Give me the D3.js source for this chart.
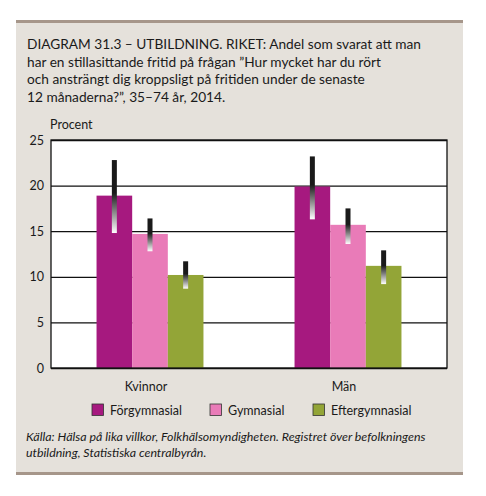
<!DOCTYPE html>
<html>
<head>
<meta charset="utf-8">
<script src="https://cdn.jsdelivr.net/npm/d3@7"></script>
<style>
  body { margin: 0; background: #fff; }
  svg text { font-family: Lato, "Open Sans", sans-serif; fill: #1a1a1a; }
</style>
</head>
<body>
<div id="chart"></div>
<script>
var groups = ["Kvinnor", "Män"];
var levels = ["Förgymnasial", "Gymnasial", "Eftergymnasial"];
var colors = ["#a6197f", "#e97bb8", "#93a537"];
// andel (procent) per grupp, ordning som levels
var values = {
  "Kvinnor": [18.9, 14.7, 10.2],
  "Män": [19.9, 15.7, 11.2]
};
// konfidensintervall, låg / hög
var ciLow = {
  "Kvinnor": [14.8, 12.8, 8.7],
  "Män": [16.3, 13.6, 9.2]
};
var ciHigh = {
  "Kvinnor": [22.8, 16.4, 11.7],
  "Män": [23.2, 17.5, 12.9]
};
var yTicks = [0, 5, 10, 15, 20, 25];

var titleLines = [
  "DIAGRAM 31.3 – UTBILDNING. RIKET: Andel som svarat att man",
  "har en stillasittande fritid på frågan ”Hur mycket har du rört",
  "och ansträngt dig kroppsligt på fritiden under de senaste",
  "12 månaderna?”, 35–74 år, 2014."
];
var sourceLines = [
  "Källa: Hälsa på lika villkor, Folkhälsomyndigheten. Registret över befolkningens",
  "utbildning, Statistiska centralbyrån."
];

var W = 486, H = 496;
var svg = d3.select("#chart").append("svg")
  .attr("width", W)
  .attr("height", H);

// panel background
svg.append("rect")
  .attr("x", 16).attr("y", 21)
  .attr("width", 447).attr("height", 453)
  .attr("fill", "#e5e1db");
svg.append("rect")
  .attr("x", 16).attr("y", 20)
  .attr("width", 447).attr("height", 3)
  .attr("fill", "#a6968a");
svg.append("rect")
  .attr("x", 16).attr("y", 472)
  .attr("width", 447).attr("height", 3)
  .attr("fill", "#a6968a");

svg.append("g").selectAll("text")
  .data(titleLines)
  .enter().append("text")
  .attr("x", 27)
  .attr("y", function(d, i) { return 49 + i * 17.6; })
  .style("font-size", "13.7px")
  .text(function(d) { return d; });

var margin = { top: 140, left: 51, right: 447, bottom: 368 };
var width = margin.right - margin.left,
  height = margin.bottom - margin.top;

var g = svg.append("g")
  .attr("transform", "translate(" + margin.left + "," + margin.top + ")");

var yScale = d3.scaleLinear()
  .domain([0, 25])
  .range([height, 0]);

var x0 = d3.scaleBand()
  .domain(groups)
  .range([0, width])
  .paddingInner(0.46)
  .paddingOuter(0.23);

var x1 = d3.scaleBand()
  .domain(levels)
  .range([0, x0.bandwidth()]);

g.append("rect")
  .attr("width", width)
  .attr("height", height)
  .attr("fill", "#fff");

g.append("g")
  .call(d3.axisLeft(yScale).tickValues(yTicks).tickSize(-width).tickFormat(""))
  .call(function(a) {
    a.select(".domain").remove();
    a.selectAll("line").attr("stroke", "#111").attr("stroke-width", 1.3);
  });

svg.append("text")
  .attr("x", 50)
  .attr("y", 129)
  .style("font-size", "12.5px")
  .text("Procent");

// gradient for error bars
var defs = svg.append("defs");
var grad = defs.append("linearGradient")
  .attr("id", "ciGrad")
  .attr("x1", 0).attr("y1", 0).attr("x2", 0).attr("y2", 1);
grad.append("stop").attr("offset", "0%").attr("stop-color", "#1a1a1a");
grad.append("stop").attr("offset", "45%").attr("stop-color", "#1a1a1a");
grad.append("stop").attr("offset", "100%").attr("stop-color", "#ffffff");

var grp = g.selectAll(".grp")
  .data(groups)
  .enter().append("g")
  .attr("transform", function(d) { return "translate(" + x0(d) + ",0)"; });

grp.selectAll("rect.bar")
  .data(function(gname) {
    return levels.map(function(l, i) { return { g: gname, l: l, i: i, v: values[gname][i] }; });
  })
  .enter().append("rect")
  .attr("class", "bar")
  .attr("x", function(d) { return x1(d.l); })
  .attr("y", function(d) { return yScale(d.v); })
  .attr("width", x1.bandwidth())
  .attr("height", function(d) { return height - yScale(d.v); })
  .attr("fill", function(d) { return colors[d.i]; });

grp.selectAll("rect.ci")
  .data(function(gname) {
    return levels.map(function(l, i) { return { l: l, lo: ciLow[gname][i], hi: ciHigh[gname][i] }; });
  })
  .enter().append("rect")
  .attr("class", "ci")
  .attr("x", function(d) { return x1(d.l) + x1.bandwidth() / 2 - 2.5; })
  .attr("y", function(d) { return yScale(d.hi); })
  .attr("width", 5)
  .attr("height", function(d) { return yScale(d.lo) - yScale(d.hi); })
  .attr("fill", "url(#ciGrad)");

// frame
g.append("rect")
  .attr("width", width)
  .attr("height", height)
  .attr("fill", "none")
  .attr("stroke", "#111")
  .attr("stroke-width", 1.3);

g.append("g")
  .call(d3.axisLeft(yScale).tickValues(yTicks).tickSize(0).tickPadding(7))
  .call(function(a) {
    a.select(".domain").remove();
    a.selectAll("text").style("font-size", "12.5px").attr("fill", "#1a1a1a")
      .style("font-family", "Lato, sans-serif");
  });

g.append("g")
  .attr("transform", "translate(0," + height + ")")
  .call(d3.axisBottom(x0).tickSize(0).tickPadding(14))
  .call(function(a) {
    a.select(".domain").remove();
    a.selectAll("text").style("font-size", "12.5px").attr("fill", "#1a1a1a")
      .style("font-family", "Lato, sans-serif")
      .attr("dx", "-4");
  });

// legend
var legX = [92, 210, 313];
var leg = svg.append("g").selectAll("g")
  .data(levels)
  .enter().append("g")
  .attr("transform", function(d, i) { return "translate(" + legX[i] + ",404)"; });
leg.append("rect")
  .attr("width", 11.5).attr("height", 11.5)
  .attr("fill", function(d, i) { return colors[i]; })
  .attr("stroke", "#333").attr("stroke-width", 0.8);
leg.append("text")
  .attr("x", 18)
  .attr("y", 10.5)
  .style("font-size", "12.5px")
  .text(function(d) { return d; });

svg.append("g").selectAll("text")
  .data(sourceLines)
  .enter().append("text")
  .attr("x", 26)
  .attr("y", function(d, i) { return 441 + i * 16; })
  .style("font-size", "12.4px")
  .style("font-style", "italic")
  .text(function(d) { return d; });
</script>
</body>
</html>
